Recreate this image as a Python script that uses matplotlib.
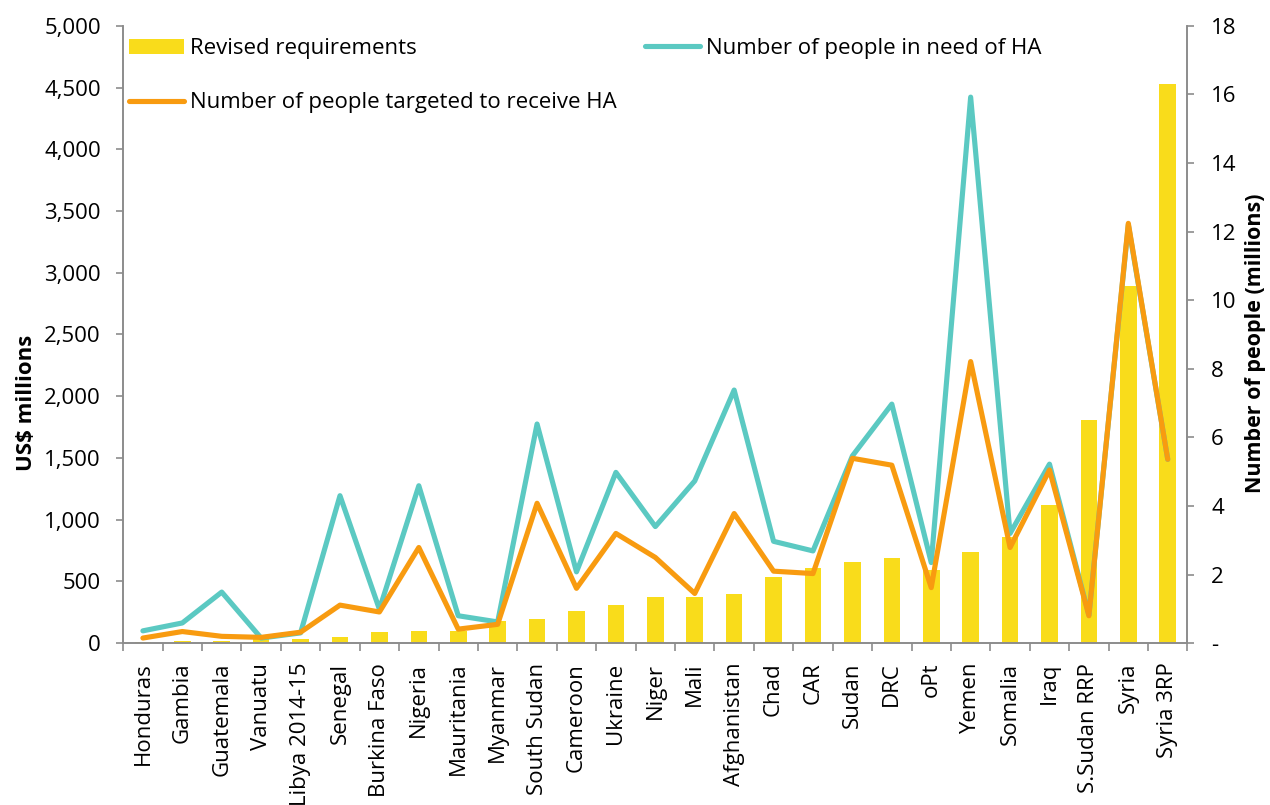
import matplotlib
matplotlib.use("Agg")
import matplotlib.pyplot as plt
from matplotlib.ticker import FuncFormatter, FixedLocator
import numpy as np

plt.rcParams['font.family'] = ['Open Sans', 'DejaVu Sans']

countries = ['Honduras', 'Gambia', 'Guatemala', 'Vanuatu', 'Libya 2014-15', 'Senegal',
             'Burkina Faso', 'Nigeria', 'Mauritania', 'Myanmar', 'South Sudan', 'Cameroon',
             'Ukraine', 'Niger', 'Mali', 'Afghanistan', 'Chad', 'CAR', 'Sudan', 'DRC', 'oPt',
             'Yemen', 'Somalia', 'Iraq', 'S.Sudan RRP', 'Syria', 'Syria 3RP']

# US$ millions
requirements = [10, 20, 20, 30, 30, 52, 93, 97, 101, 183, 199, 262, 313, 371, 375, 401, 540,
                606, 656, 688, 590, 742, 862, 1118, 1807, 2893, 4530]

# millions of people
people_in_need = [0.36, 0.59, 1.49, 0.15, 0.30, 4.30, 0.99, 4.59, 0.80, 0.62, 6.39, 2.08,
                  4.98, 3.40, 4.73, 7.38, 2.97, 2.69, 5.46, 6.97, 2.35, 15.92, 3.20, 5.22,
                  0.82, 12.20, 5.36]
people_targeted = [0.15, 0.34, 0.20, 0.17, 0.32, 1.11, 0.91, 2.79, 0.41, 0.55, 4.08, 1.60,
                   3.20, 2.50, 1.45, 3.78, 2.10, 2.03, 5.39, 5.19, 1.62, 8.21, 2.79, 5.05,
                   0.80, 12.24, 5.36]

yellow = '#F9DC1B'
teal = '#5BC9C2'
orange = '#F89B10'
grey = '#8C8C8C'
fs = 16

fig = plt.figure(figsize=(12.7, 8.05), dpi=100)
ax = fig.add_axes([0.097, 0.201, 0.838, 0.767])
ax2 = ax.twinx()

x = np.arange(len(countries))
bars = ax.bar(x, requirements, width=0.42, color=yellow, zorder=2, label='Revised requirements')
ln_need, = ax2.plot(x, people_in_need, color=teal, lw=3.7, solid_joinstyle='round',
                    solid_capstyle='round', label='Number of people in need of HA')
ln_tgt, = ax2.plot(x, people_targeted, color=orange, lw=3.7, solid_joinstyle='round',
                   solid_capstyle='round', label='Number of people targeted to receive HA')

ax.set_xlim(-0.5, len(countries) - 0.5)
ax.set_ylim(0, 5000)
ax2.set_ylim(0, 18)
ax.set_yticks(np.arange(0, 5001, 500))
ax2.set_yticks(np.arange(0, 19, 2))
ax.yaxis.set_major_formatter(FuncFormatter(lambda v, p: f'{v:,.0f}'))
ax2.yaxis.set_major_formatter(FuncFormatter(lambda v, p: '-' if v == 0 else f'{v:.0f}'))

ax.set_xticks(x)
ax.set_xticklabels(countries, rotation=90, fontsize=fs)
ax.xaxis.set_minor_locator(FixedLocator(np.arange(-0.5, len(countries), 1)))
ax.tick_params(axis='x', which='major', length=0, pad=14)
ax.tick_params(axis='x', which='minor', length=6, color=grey, width=1.2, direction='out')
ax.tick_params(axis='y', length=5, color=grey, width=1.2, labelsize=fs, pad=11)
ax2.tick_params(axis='y', length=5, color=grey, width=1.2, labelsize=fs, pad=12)

for a in (ax, ax2):
    a.spines['top'].set_visible(False)
    for s in ('left', 'right', 'bottom'):
        a.spines[s].set_color(grey)
        a.spines[s].set_linewidth(1.2)

ax.set_ylabel('US$ millions', fontsize=16, fontweight='bold')
ax.yaxis.set_label_coords(-0.081, 0.39)
ax2.set_ylabel('Number of people (millions)', fontsize=15.5, fontweight='bold', rotation=90)
ax2.yaxis.set_label_coords(1.054, 0.485)

leg1 = ax2.legend([bars, ln_tgt], ['Revised requirements', 'Number of people targeted to receive HA'],
                  loc='upper left', bbox_to_anchor=(0.005, 0.98), frameon=False, fontsize=fs,
                  handlelength=2.5, handletextpad=0.25, labelspacing=1.5, borderpad=0,
                  borderaxespad=0)
ax2.add_artist(leg1)
ax2.legend([ln_need], ['Number of people in need of HA'], loc='upper left',
           bbox_to_anchor=(0.49, 0.98), frameon=False, fontsize=fs, handlelength=2.5,
           handletextpad=0.25, borderpad=0, borderaxespad=0)

fig.savefig('out.png', dpi=100)
